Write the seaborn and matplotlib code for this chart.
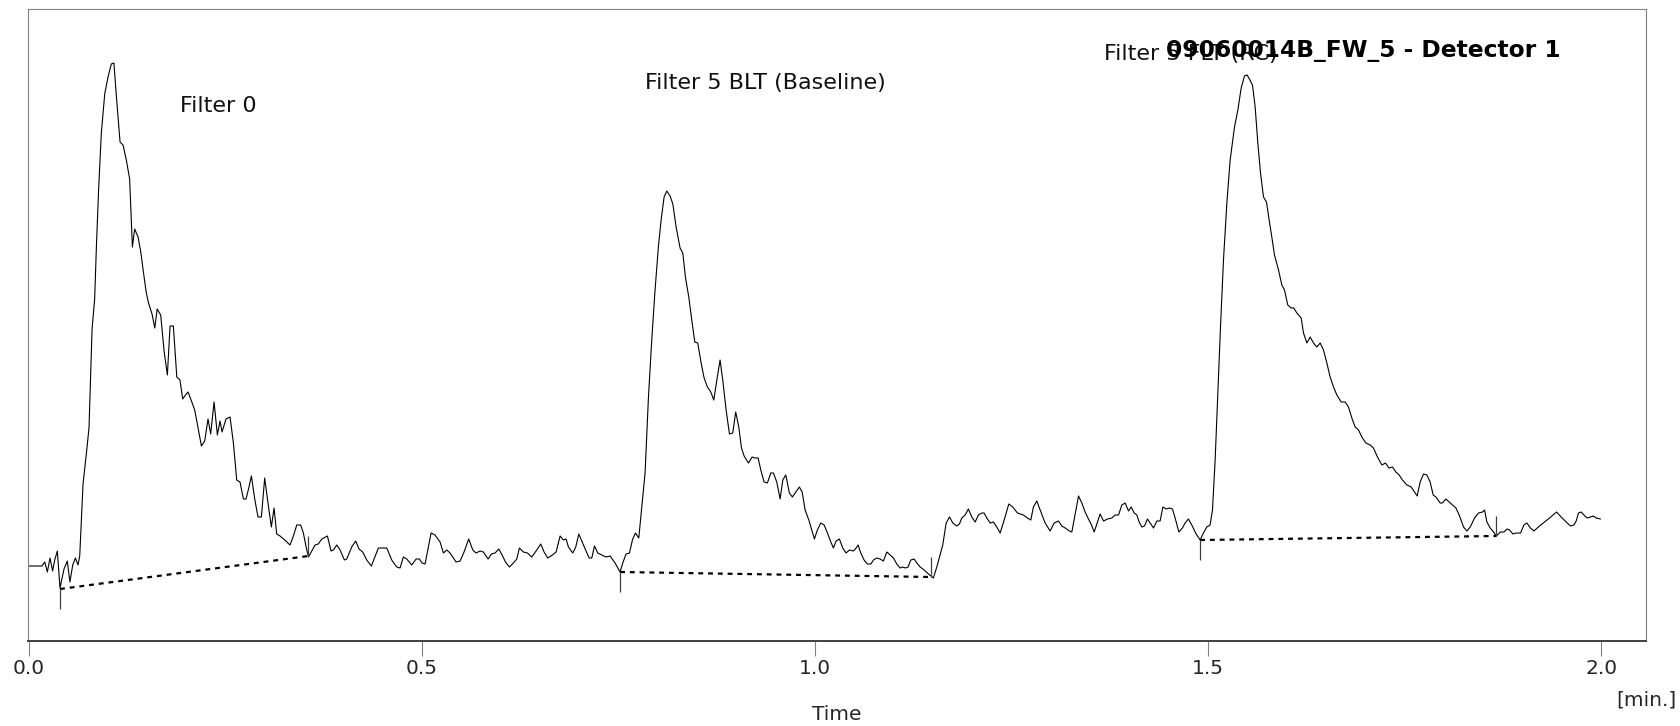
import matplotlib
matplotlib.use("Agg")
import matplotlib.pyplot as plt
import seaborn as sns
import pandas as pd

# Detector trace: retention time [min] and signal (arbitrary units)
time_a = [0.000, 0.0165, 0.020, 0.0233, 0.0267, 0.030, 0.0327, 0.036, 0.0394, 0.0445,
          0.0487, 0.052, 0.0556, 0.059, 0.0623, 0.0645, 0.0687, 0.0729, 0.0763, 0.0802,
          0.0835, 0.0857, 0.0886, 0.092, 0.0963, 0.1005, 0.1047, 0.108, 0.111, 0.1158,
          0.1196, 0.1238, 0.128, 0.1315, 0.1344, 0.1387, 0.142, 0.145, 0.149, 0.152,
          0.1565, 0.160, 0.163, 0.1675, 0.1718, 0.176, 0.1794, 0.1836, 0.188, 0.192,
          0.1955, 0.199, 0.2023, 0.2057, 0.2108, 0.215, 0.2193, 0.2235, 0.2277, 0.2311,
          0.2354, 0.2396, 0.243, 0.2455, 0.2506, 0.2557, 0.260, 0.2642, 0.2684, 0.2727,
          0.2761, 0.2795, 0.2829, 0.2871, 0.2913, 0.2956, 0.2998, 0.304, 0.3083, 0.3117,
          0.3151, 0.3193, 0.3253, 0.332, 0.3363, 0.3406, 0.3456, 0.349, 0.3525, 0.3555]
signal_a = [75, 75, 79, 69, 83, 70, 81, 90, 53, 72,
            80, 59, 76, 83, 76, 85, 157, 187, 213, 312,
            342, 394, 453, 508, 547, 564, 577, 578, 546, 499,
            496, 481, 462, 394, 412, 404, 390, 372, 349, 338,
            327, 313, 332, 326, 290, 266, 315, 315, 264, 261,
            242, 246, 249, 242, 231, 213, 195, 200, 222, 207,
            239, 206, 220, 209, 222, 224, 198, 161, 159, 142,
            142, 153, 165, 142, 124, 124, 163, 138, 114, 133,
            107, 105, 101, 96, 105, 116, 116, 108, 94, 84]

time_b = [0.3597, 0.3639, 0.368, 0.3724, 0.3796, 0.3842, 0.3872, 0.3915, 0.3957, 0.4012,
          0.4042, 0.4105, 0.4156, 0.4198, 0.4245, 0.4296, 0.4355, 0.4444, 0.4551, 0.4614,
          0.4678, 0.472, 0.4762, 0.4805, 0.4869, 0.4924, 0.4966, 0.5, 0.5038, 0.5115,
          0.5165, 0.5229, 0.5272, 0.5314, 0.5356, 0.5433, 0.5484, 0.5534, 0.5594, 0.5645,
          0.5687, 0.5738, 0.578, 0.584, 0.5882, 0.5929, 0.5976, 0.6018, 0.6061, 0.6111,
          0.6162, 0.6205, 0.6238, 0.6289, 0.634, 0.6396, 0.6459, 0.651, 0.6552, 0.6599,
          0.6658, 0.6705, 0.6756, 0.6798, 0.6832, 0.6862, 0.6917, 0.6955, 0.6994, 0.7053,
          0.7125, 0.7159, 0.7193, 0.7235, 0.7286, 0.7341, 0.7392, 0.7455, 0.7519, 0.7553,
          0.7595, 0.7638, 0.7676, 0.7714, 0.7757]
signal_b = [90, 96, 97, 102, 105, 90, 91, 96, 91, 81,
            82, 94, 100, 92, 89, 81, 75, 93, 93, 81,
            74, 73, 84, 82, 76, 82, 82, 78, 77, 108,
            106, 99, 88, 91, 88, 79, 80, 89, 102, 91,
            88, 90, 89, 82, 87, 88, 92, 86, 79, 74,
            78, 82, 93, 89, 88, 84, 91, 97, 89, 83,
            86, 89, 105, 101, 102, 94, 88, 94, 107, 96,
            83, 83, 95, 88, 86, 84, 85, 78, 69, 78,
            87, 88, 101, 108, 103]

time_c = [0.7795, 0.7837, 0.788, 0.7922, 0.7964, 0.8006, 0.8041, 0.8079, 0.8113, 0.8155,
          0.819, 0.8232, 0.8282, 0.8317, 0.835, 0.8393, 0.8431, 0.8469, 0.8507, 0.855,
          0.8588, 0.863, 0.8673, 0.8711, 0.875, 0.8791, 0.8825, 0.8868, 0.891, 0.8952,
          0.899, 0.9029, 0.9063, 0.9097, 0.9152, 0.9198, 0.9233, 0.9275, 0.9309, 0.9351,
          0.9393, 0.9436, 0.947, 0.9512, 0.9555, 0.9589, 0.9627, 0.9673, 0.9711, 0.9754,
          0.98, 0.9835, 0.9873, 0.992, 0.9957, 0.9991, 1.0029, 1.0072, 1.0115, 1.0157,
          1.02, 1.0233, 1.0267, 1.0309, 1.0352, 1.0394, 1.0437, 1.0487, 1.0513, 1.0547,
          1.0581, 1.0623, 1.0665, 1.0709, 1.0742, 1.0785, 1.0827, 1.0869, 1.0912, 1.0954,
          1.0997, 1.1039, 1.1081, 1.1115, 1.1149, 1.1183, 1.1217, 1.126, 1.1294, 1.1336,
          1.1387, 1.1442, 1.1505]
signal_c = [134, 168, 244, 301, 351, 394, 421, 444, 450, 445,
            437, 414, 393, 388, 364, 344, 321, 299, 298, 278,
            263, 254, 249, 241, 261, 281, 261, 231, 207, 208,
            229, 214, 193, 185, 178, 184, 183, 183, 171, 159,
            158, 168, 168, 159, 142, 161, 166, 148, 144, 149,
            154, 149, 131, 121, 111, 102, 111, 118, 116, 108,
            99, 93, 100, 102, 93, 88, 91, 90, 92, 96,
            88, 81, 77, 77, 81, 83, 82, 80, 89, 86,
            83, 77, 73, 74, 73, 74, 81, 82, 78, 74,
            71, 67, 63]

time_d = [1.1548, 1.1624, 1.1667, 1.1709, 1.1752, 1.1802, 1.1836, 1.1866, 1.1908, 1.195,
          1.1993, 1.2036, 1.2078, 1.2121, 1.215, 1.2184, 1.2227, 1.2269, 1.2311, 1.2354,
          1.2405, 1.2464, 1.2515, 1.2574, 1.265, 1.2701, 1.2744, 1.2777, 1.282, 1.2863,
          1.2926, 1.299, 1.3041, 1.3096, 1.3139, 1.3181, 1.3236, 1.3266, 1.3351, 1.3393,
          1.3435, 1.3477, 1.3511, 1.355, 1.3584, 1.3626, 1.3669, 1.372, 1.3775, 1.3817,
          1.386, 1.3902, 1.3944, 1.3987, 1.4021, 1.4059, 1.4093, 1.4122, 1.4157, 1.419,
          1.4228, 1.4262, 1.4305, 1.4347, 1.4389, 1.4424, 1.4466, 1.4508, 1.4546, 1.458,
          1.4627, 1.4673, 1.4707, 1.4749, 1.4792, 1.4847, 1.4898, 1.494, 1.4983]
signal_d = [74, 96, 118, 124, 118, 115, 117, 123, 126, 132,
            124, 119, 126, 128, 128, 123, 118, 119, 114, 108,
            121, 137, 134, 128, 126, 123, 121, 134, 140, 131,
            118, 110, 118, 120, 115, 113, 110, 109, 145, 138,
            129, 122, 117, 109, 117, 127, 120, 122, 123, 126,
            126, 136, 138, 130, 134, 128, 126, 119, 114, 115,
            122, 118, 113, 120, 120, 134, 132, 133, 132, 123,
            109, 113, 118, 122, 116, 107, 101, 108, 114]

time_e = [1.5025, 1.5055, 1.5089, 1.5123, 1.5157, 1.5195, 1.5238, 1.528, 1.5335, 1.5378,
          1.542, 1.5462, 1.5496, 1.5531, 1.5564, 1.5598, 1.5632, 1.5666, 1.5704, 1.5742,
          1.5776, 1.581, 1.5844, 1.5895, 1.5937, 1.5971, 1.6013, 1.6056, 1.609, 1.6128,
          1.6183, 1.6213, 1.6256, 1.6298, 1.634, 1.6383, 1.6425, 1.6467, 1.651, 1.6552,
          1.6595, 1.6637, 1.6692, 1.6743, 1.6785, 1.6828, 1.687, 1.6913, 1.6955, 1.7006,
          1.7061, 1.7103, 1.7154, 1.721, 1.7256, 1.7299, 1.7345, 1.7388, 1.743, 1.7472,
          1.7528, 1.7583, 1.7625, 1.7659, 1.7697, 1.774, 1.7782, 1.7824, 1.7863, 1.7897,
          1.7952, 1.7981, 1.8024, 1.8066, 1.8109, 1.8152, 1.8193, 1.8249, 1.8291, 1.8334,
          1.8389, 1.844, 1.8491, 1.8516, 1.8546, 1.8588, 1.8631, 1.8665]
signal_e = [116, 131, 181, 248, 314, 381, 438, 481, 514, 531,
            553, 565, 566, 561, 556, 534, 498, 468, 444, 439,
            421, 404, 386, 371, 356, 351, 336, 333, 333, 328,
            323, 308, 298, 304, 298, 294, 298, 291, 278, 264,
            254, 246, 239, 239, 234, 223, 214, 211, 204, 198,
            196, 193, 184, 176, 178, 173, 174, 169, 166, 161,
            156, 154, 149, 145, 159, 167, 166, 159, 146, 144,
            138, 138, 142, 139, 136, 133, 126, 114, 110, 114,
            123, 128, 129, 131, 119, 113, 109, 105]

time_f = [1.8719, 1.8762, 1.8804, 1.8834, 1.8877, 1.8919, 1.8974, 1.9017, 1.9055, 1.91,
          1.9144, 1.9215, 1.9279, 1.9343, 1.9432, 1.9491, 1.9555, 1.961, 1.9653, 1.9682,
          1.9711, 1.9746, 1.978, 1.9822, 1.9864, 1.9902, 1.9936, 1.9991]
signal_f = [109, 109, 112, 111, 107, 108, 108, 116, 118, 113,
            110, 115, 119, 123, 129, 124, 119, 115, 116, 120,
            128, 129, 126, 123, 124, 125, 123, 122]

# Integration baselines (start/end time and signal) per peak
peak_names = ["Filter 0", "Filter 5 BLT (Baseline)", "Filter 5 FLT (RC)"]
base_t0 = [0.0394, 0.7519, 1.4898]
base_y0 = [52, 69, 101]
base_t1 = [0.3555, 1.147, 1.8665]
base_y1 = [85, 64, 105]

# Label anchor points for the peak names
label_t = [0.2405, 0.9364, 1.3677]
label_y = [535, 558, 587]
label_ha = ["center", "center", "left"]

x_ticks = [0.0, 0.5, 1.0, 1.5, 2.0]
x_tick_labels = ["0.0", "0.5", "1.0", "1.5", "2.0"]
chart_title = "09060014B_FW_5 - Detector 1"

time = time_a + time_b + time_c + time_d + time_e + time_f
signal = signal_a + signal_b + signal_c + signal_d + signal_e + signal_f
trace = pd.DataFrame({"Time": time, "Signal": signal})

sns.set_theme(style="white")
plt.rcParams["font.family"] = ["DejaVu Sans"]

fig = plt.figure(figsize=(16.81, 7.26), dpi=100)
ax = fig.add_axes([28 / 1681, 1 - 641 / 726, (1646 - 28) / 1681, (641 - 9) / 726])

sns.lineplot(data=trace, x="Time", y="Signal", ax=ax, estimator=None, sort=False,
             color="black", linewidth=0.8)

# Dashed baselines and the start/end tick marks of each integrated peak
tick_len = 20
for t0, y0, t1, y1 in zip(base_t0, base_y0, base_t1, base_y1):
    ax.plot([t0, t1], [y0, y1], color="black", linewidth=1.6,
            linestyle=(0, (2.2, 2.2)), zorder=3)
    ax.vlines(t0, y0 - tick_len, y0, color="#404040", linewidth=0.9, zorder=3)
    ax.vlines(t1, y1, y1 + tick_len, color="#404040", linewidth=0.9, zorder=3)

for name, t, y, ha in zip(peak_names, label_t, label_y, label_ha):
    ax.text(t, y, name, ha=ha, va="center", fontsize=16, color="#111111")

fig.text(1363 / 1681, 1 - 50 / 726, chart_title, ha="center", va="center",
         fontsize=16.8, fontweight="bold", color="black")

ax.set_xlim(-0.0013, 2.057)
ax.set_ylim(0, 632)
ax.set_xticks(x_ticks)
ax.set_xticklabels(x_tick_labels, fontsize=14.5)
ax.set_yticks([])
ax.set_ylabel("")
ax.tick_params(axis="x", direction="out", length=11, width=0.8, color="#808080",
               pad=2, bottom=True)

ax.set_xlabel("Time", fontsize=14.5)
ax.xaxis.label.set_va("center")
ax.xaxis.set_label_coords(0.5, -74 / 632)

fig.text(1646 / 1681, 1 - 700 / 726, "[min.]", ha="center", va="center", fontsize=14.5)

for side in ["left", "top", "right"]:
    ax.spines[side].set_color("#808080")
    ax.spines[side].set_linewidth(0.8)
ax.spines["bottom"].set_color("#333333")
ax.spines["bottom"].set_linewidth(1.3)

fig.savefig("out.png", dpi=100)
